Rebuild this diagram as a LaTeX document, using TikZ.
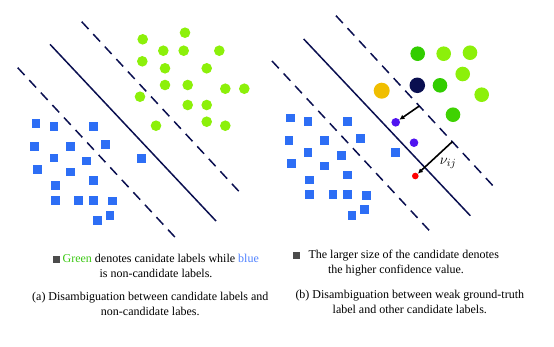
\documentclass[tikz,border=0pt]{standalone}
\usepackage{fontspec}
\setmainfont{Liberation Serif}
\usetikzlibrary{arrows.meta}
\definecolor{lime}{RGB}{140,240,10}
\definecolor{leaf}{RGB}{50,205,0}
\definecolor{sqblue}{RGB}{45,110,245}
\definecolor{navy}{RGB}{10,15,80}
\definecolor{amber}{RGB}{240,190,0}
\definecolor{violet}{RGB}{80,20,240}
\definecolor{gtext}{RGB}{60,200,20}
\definecolor{btext}{RGB}{80,130,255}
\newcommand{\legsq}{\textcolor{black!70}{\rule{6.5pt}{6.5pt}}}
\tikzset{
  sep/.style={line width=1.5pt, draw=navy},
  marg/.style={line width=1.5pt, draw=navy, dash pattern=on 10pt off 7pt},
  cand/.style={circle, fill=lime, inner sep=0pt, minimum size=10.6pt},
  big/.style={circle, inner sep=0pt, minimum size=14.6pt},
  small/.style={circle, inner sep=0pt, minimum size=8.6pt, fill=violet},
  noncand/.style={rectangle, fill=sqblue, inner sep=0pt, minimum size=8.8pt},
  arr/.style={-{Latex[length=5pt,width=5pt]}, line width=1.6pt, draw=black},
  txt/.style={align=center, inner sep=0pt, font=\fontsize{12}{15}\selectfont}
}

\begin{document}
\begin{tikzpicture}[x=1pt, y=-1pt]
\useasboundingbox (0,0) rectangle (554,346);
\coordinate (a1) at (81.7,21.7);  \coordinate (a2) at (240.7,193.3);
\coordinate (a3) at (50,44.3);    \coordinate (a4) at (216,221);
\coordinate (a5) at (17.7,67.7);  \coordinate (a6) at (176.7,239);
\draw[marg] (a1) -- (a2);
\draw[sep] (a3) -- (a4);
\draw[marg] (a5) -- (a6);
\foreach \x/\y [count=\i] in {142.7/39.3, 185/32.7, 163.3/50.7, 183.7/50.7, 219.3/50.7,
    142.3/61.3, 165/68.3, 206.7/68.3, 165/85, 187.7/85, 225.3/88.7, 244.3/88.7,
    140/96.7, 187.7/105, 206.7/105, 156/125.7, 206.7/121.7, 225.3/125.7}
  \node[cand] (ga\i) at (\x,\y) {};
\foreach \x/\y [count=\i] in {36/123.7, 54/126.7, 93.7/126.7, 34.7/146.3, 70.3/146.3,
    105.7/144.3, 54/158, 86.7/161, 141.3/158.3, 37.3/169.3, 70.3/172, 93.7/180.7,
    55.7/185.7, 55.7/200.7, 78.7/200.7, 93.7/200.7, 112.3/201, 110/215.3, 97.3/220.7}
  \node[noncand] (ba\i) at (\x,\y) {};
\coordinate (b1) at (336,15.7);   \coordinate (b2) at (495.3,188.3);
\coordinate (b3) at (303.7,39);   \coordinate (b4) at (470.3,215.7);
\coordinate (b5) at (272,61);     \coordinate (b6) at (431.3,232.7);
\draw[marg] (b1) -- (b2);
\draw[sep] (b3) -- (b4);
\draw[marg] (b5) -- (b6);
\foreach \x/\y [count=\i] in {290.3/118, 308/121.3, 347.7/121.3, 289/140.7, 324.7/140.7,
    360.3/138.3, 308/152.3, 341.3/155.3, 395.7/152.3, 291.7/163.3, 324.7/166, 347.7/175,
    309.7/180, 309.7/194.7, 333/194.7, 347.7/194.7, 366.3/195.3, 364.3/209.7, 352/215.3}
  \node[noncand] (bb\i) at (\x,\y) {};
\node[big, fill=leaf] (g1) at (417.7,53.7) {};
\node[big, fill=lime] (g2) at (443.7,53.7) {};
\node[big, fill=lime] (g3) at (470,52.7) {};
\node[big, fill=lime] (g4) at (462.7,74) {};
\node[big, fill=amber, minimum height=16pt] (g5) at (381.7,90.7) {};
\node[big, fill=navy, minimum size=15.5pt] (g6) at (417.3,85.3) {};
\node[big, fill=leaf] (g7) at (440,85.3) {};
\node[big, fill=lime] (g8) at (481.7,94.7) {};
\node[big, fill=leaf!85!lime] (g9) at (453,114.7) {};
\node[small] (p1) at (395.7,122.3) {};
\node[small] (p2) at (414,142.7) {};
\node[small, fill=red, minimum size=6.6pt] (rd) at (415.3,176) {};
\coordinate (t1) at (419.3,106);
\coordinate (t2) at (452.3,141.7);
\draw[arr] (t1) -- (p1);
\draw[arr] (t2) -- (rd);
\node[font=\fontsize{15}{17}\selectfont] (nu) at (448,163.3) {$\nu_{ij}$};
\node[txt] (lega) at (156,266)
  {\legsq\ \textcolor{gtext}{Green} denotes canidate labels while \textcolor{btext}{blue}\\is non-candidate labels.};
\node[txt] (capa) at (150.3,303.5)
  {(a) Disambiguation between candidate labels and\\non-candidate labes.};
\node[txt] (legb) at (396,263.4)
  {\legsq\hspace{6pt} The larger size of the candidate denotes\\the higher confidence value.};
\node[txt] (capb) at (409.8,302)
  {(b) Disambiguation between weak ground-truth\\label and other candidate labels.};
\end{tikzpicture}
\end{document}
